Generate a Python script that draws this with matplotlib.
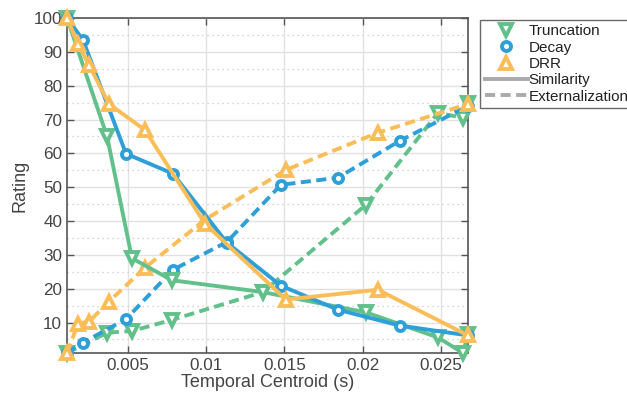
import matplotlib
matplotlib.use("Agg")
import matplotlib.pyplot as plt
from matplotlib.lines import Line2D
from matplotlib.ticker import MultipleLocator

plt.rcParams['font.family'] = ['Liberation Sans', 'DejaVu Sans']

# Data (temporal centroid in s, ratings)
trunc_x = [0.00110, 0.00366, 0.00525, 0.00781, 0.01362, 0.02021, 0.02481, 0.02641, 0.02673]
trunc_sim = [100, 65, 29, 22.5, 19, 13, 5.6, 1, 6.5]
trunc_ext = [1, 7, 7.5, 10.8, 19, 44.8, 72, 70.5, 75]

decay_x = [0.00110, 0.00212, 0.00487, 0.00787, 0.01132, 0.01477, 0.01841, 0.02237, 0.02673]
decay_sim = [100, 93.5, 59.9, 54, 33.6, 20.9, 13.8, 9.1, 6.2]
decay_ext = [1, 4.1, 11, 25.6, 33.8, 50.7, 52.8, 63.7, 74]

drr_x = [0.00110, 0.00180, 0.00251, 0.00378, 0.00608, 0.00992, 0.01509, 0.02097, 0.02673]
drr_sim = [100, 92.3, 86.1, 74.6, 66.9, 39.2, 16.8, 19.7, 6.2]
drr_ext = [1, 9.7, 10.3, 16.2, 26.2, 40.4, 55.1, 66.1, 74.6]

names = ["Truncation", "Decay", "DRR"]
colors = ["#62c08b", "#2f9fd8", "#fbbd58"]
markers = ["v", "o", "^"]
msizes = [8.5, 6.5, 8.5]
xs = [trunc_x, decay_x, drr_x]
sims = [trunc_sim, decay_sim, drr_sim]
exts = [trunc_ext, decay_ext, drr_ext]

fig = plt.figure(figsize=(6.27, 3.96), dpi=100)
ax = fig.add_axes([0.1069, 0.1086, 0.6395, 0.8459])

lw = 2.8
dash = (0, (2.6, 1.4))
mew = 2.8
for x, s, e, c, m, ms in zip(xs, sims, exts, colors, markers, msizes):
    ax.plot(x, e, color=c, lw=lw, ls=dash, marker=m, ms=ms,
            mfc='white', mec=c, mew=mew, clip_on=False, zorder=3)
    ax.plot(x, s, color=c, lw=lw, ls='-', marker=m, ms=ms,
            mfc='white', mec=c, mew=mew, clip_on=False, zorder=4)

ax.set_xlim(0.00110, 0.02673)
ax.set_ylim(1, 100)
ax.yaxis.set_minor_locator(MultipleLocator(5))
ax.set_xticks([0.005, 0.01, 0.015, 0.02, 0.025])
ax.set_xticklabels(["0.005", "0.01", "0.015", "0.02", "0.025"])
ax.set_yticks(range(10, 101, 10))

ax.grid(which='major', color='#e2e2e2', lw=1.0, ls='-', zorder=0)
ax.grid(which='minor', axis='y', color='#c8c8c8', lw=0.9, ls=(0, (1, 3)), zorder=0)
ax.set_axisbelow(True)

ax.tick_params(which='both', direction='in', top=True, right=True,
               colors='#555555', labelcolor='#444444', labelsize=12.3, length=5, width=1)
ax.tick_params(which='minor', length=0)
for sp in ax.spines.values():
    sp.set_color('#555555')
    sp.set_linewidth(1.2)

ax.set_xlabel("Temporal Centroid (s)", fontsize=13, color='#444444', labelpad=1)
ax.set_ylabel("Rating", fontsize=13, color='#444444', labelpad=4)

handles = [Line2D([], [], ls='none', marker=m, ms=ms, mfc='white', mec=c, mew=mew)
           for m, c, ms in zip(markers, colors, msizes)]
handles.append(Line2D([], [], color='#aaaaaa', lw=2.8, ls='-'))
handles.append(Line2D([], [], color='#aaaaaa', lw=2.8, ls=dash))
labels = names + ["Similarity", "Externalization"]
leg = fig.legend(handles, labels, loc='upper left', bbox_to_anchor=(0.766, 0.95),
                 fontsize=11.0, frameon=True, fancybox=False, edgecolor='#444444',
                 handlelength=2.8, handletextpad=0.05, borderpad=0.3, labelspacing=0.15,
                 borderaxespad=0)
leg.get_frame().set_linewidth(1.0)
for t in leg.get_texts():
    t.set_color('#222222')

fig.savefig("out.png", dpi=100)
